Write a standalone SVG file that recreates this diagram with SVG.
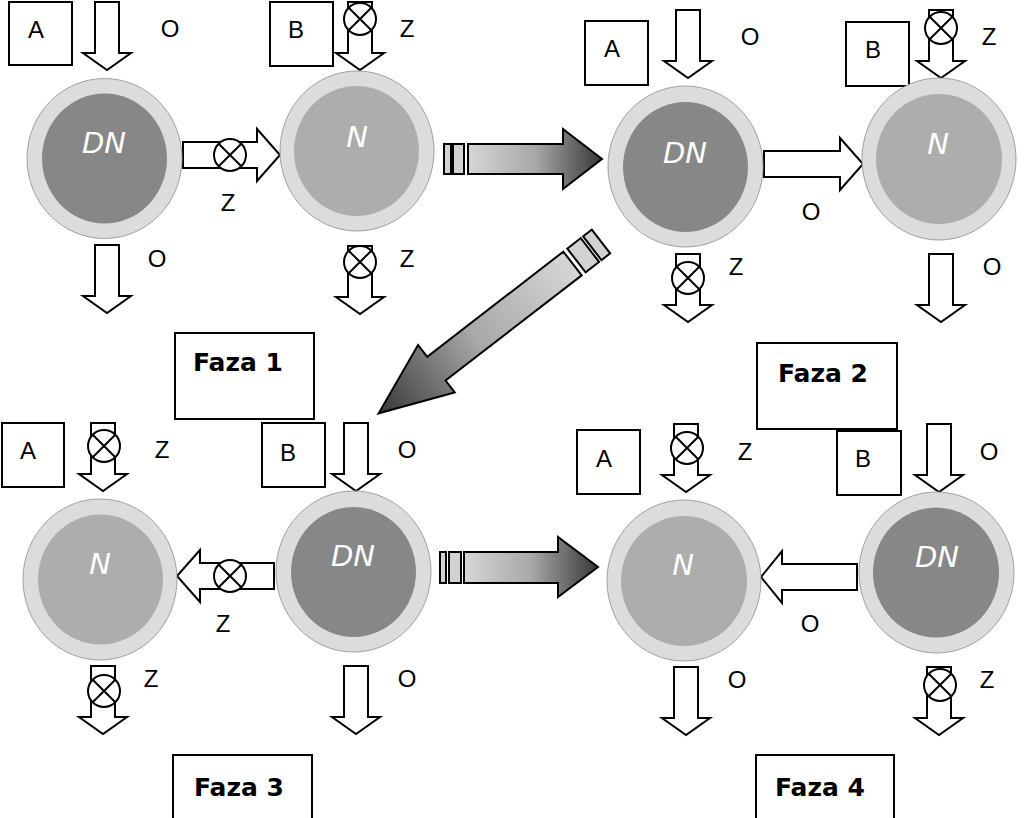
<svg xmlns="http://www.w3.org/2000/svg" xmlns:xlink="http://www.w3.org/1999/xlink" width="1024" height="818" viewBox="0 0 1024 818">
<style>
.box{fill:#fff;stroke:#000;stroke-width:2}
.arr{fill:#fff;stroke:#000;stroke-width:2;stroke-linejoin:miter}
.outer{fill:#dcdcdc;stroke:#a0a0a0;stroke-width:1}
.dn{fill:#878787}
.n{fill:#adadad}
.lbl{font-family:"Liberation Sans",Arial,sans-serif;font-size:24px;fill:#000;text-anchor:middle}
.nl{font-family:"DejaVu Sans",sans-serif;font-style:italic;font-size:29px;fill:#fff;text-anchor:middle}
.faza{font-family:"DejaVu Sans",sans-serif;font-weight:bold;font-size:25px;fill:#000}
.big{stroke:#000;stroke-width:2;stroke-linejoin:miter}
.blk{fill:#d2d2d2;stroke:#000;stroke-width:2}
</style>
<defs>
<path id="down" class="arr" d="M-12,0 V51 H-24 L0,68 L24,51 H12 V0 Z"/>
<g id="xc"><circle r="16" fill="#fff" stroke="#000" stroke-width="2"/><path d="M-11.3,-11.3 L11.3,11.3 M-11.3,11.3 L11.3,-11.3" stroke="#000" stroke-width="2"/></g>
<linearGradient id="gh" x1="0" y1="0" x2="1" y2="0"><stop offset="0" stop-color="#d6d6d6"/><stop offset="0.5" stop-color="#a8a8a8"/><stop offset="1" stop-color="#383838"/></linearGradient>
<linearGradient id="gd" gradientUnits="userSpaceOnUse" x1="0" y1="0" x2="245" y2="0"><stop offset="0" stop-color="#d6d6d6"/><stop offset="0.5" stop-color="#a8a8a8"/><stop offset="1" stop-color="#383838"/></linearGradient>
</defs>

<g id="connectors">
<!-- phase 1 -->
<use xlink:href="#down" transform="translate(107,2)"/>
<use xlink:href="#down" transform="translate(360,2)"/>
<use xlink:href="#xc" transform="translate(360,19)"/>
<use xlink:href="#down" transform="translate(107,245)"/>
<use xlink:href="#down" transform="translate(360,246)"/>
<use xlink:href="#xc" transform="translate(360,262)"/>
<path class="arr" d="M183,142 H257 V129 L280,155 L257,181 V168 H183 Z"/>
<use xlink:href="#xc" transform="translate(230,155)"/>
<!-- phase 2 -->
<use xlink:href="#down" transform="translate(688,10)"/>
<use xlink:href="#down" transform="translate(941,10)"/>
<use xlink:href="#xc" transform="translate(941,28)"/>
<use xlink:href="#down" transform="translate(688,254)"/>
<use xlink:href="#xc" transform="translate(688,278)"/>
<use xlink:href="#down" transform="translate(941,254)"/>
<path class="arr" d="M764,151 H840 V138 L863,164 L840,190 V177 H764 Z"/>
<!-- phase 3 -->
<use xlink:href="#down" transform="translate(103,423)"/>
<use xlink:href="#xc" transform="translate(104,446)"/>
<use xlink:href="#down" transform="translate(356,423)"/>
<use xlink:href="#down" transform="translate(103,666)"/>
<use xlink:href="#xc" transform="translate(104,691)"/>
<use xlink:href="#down" transform="translate(356,666)"/>
<path class="arr" d="M274,563 H200 V550 L177,576 L200,602 V589 H274 Z"/>
<use xlink:href="#xc" transform="translate(230,576)"/>
<!-- phase 4 -->
<use xlink:href="#down" transform="translate(686,424)"/>
<use xlink:href="#xc" transform="translate(687,448)"/>
<use xlink:href="#down" transform="translate(939,424)"/>
<use xlink:href="#down" transform="translate(686,667)"/>
<use xlink:href="#down" transform="translate(939,667)"/>
<use xlink:href="#xc" transform="translate(940,685)"/>
<path class="arr" d="M857,564 H782 V551 L761,577 L782,603 V590 H857 Z"/>
<!-- transition arrows -->
<g id="t12">
<rect class="blk" x="444" y="144" width="7" height="30"/>
<rect class="blk" x="453" y="144" width="11" height="30"/>
<path class="big" fill="url(#gh)" d="M468,144 H563 V129 L602,159 L563,189 V174 H468 Z"/>
</g>
<g id="t23" transform="translate(572.5,263.5) rotate(142.3)">
<rect class="blk" x="-36" y="-15" width="11" height="30"/>
<rect class="blk" x="-22" y="-15" width="17" height="30"/>
<path class="big" fill="url(#gd)" d="M0,-15 H172 V-30 L245,0 L172,30 V15 H0 Z"/>
</g>
<g id="t34">
<rect class="blk" x="440" y="552" width="6" height="31"/>
<rect class="blk" x="449" y="552" width="12" height="31"/>
<path class="big" fill="url(#gh)" d="M464,552 H558 V537 L598,567 L558,597 V583 H464 Z"/>
</g>
</g>

<!-- labels on connectors -->
<g id="labels">
<text class="lbl" x="170" y="37">O</text>
<text class="lbl" x="407" y="37">Z</text>
<text class="lbl" x="228" y="211">Z</text>
<text class="lbl" x="157" y="267">O</text>
<text class="lbl" x="407" y="267">Z</text>
<text class="lbl" x="750" y="45">O</text>
<text class="lbl" x="989" y="45">Z</text>
<text class="lbl" x="811" y="220">O</text>
<text class="lbl" x="736" y="275">Z</text>
<text class="lbl" x="992" y="275">O</text>
<text class="lbl" x="162" y="458">Z</text>
<text class="lbl" x="407" y="458">O</text>
<text class="lbl" x="223" y="632">Z</text>
<text class="lbl" x="151" y="687">Z</text>
<text class="lbl" x="407" y="687">O</text>
<text class="lbl" x="745" y="460">Z</text>
<text class="lbl" x="989" y="460">O</text>
<text class="lbl" x="810" y="632">O</text>
<text class="lbl" x="737" y="688">O</text>
<text class="lbl" x="987" y="688">Z</text>
</g>

<!-- phase 1 nodes -->
<g id="p1-A"><rect class="box" x="9" y="2" width="63" height="63"/><text class="lbl" x="36" y="38">A</text></g>
<g id="p1-B"><rect class="box" x="270" y="2" width="63" height="64"/><text class="lbl" x="296" y="38">B</text></g>
<g id="p1-DN"><ellipse class="outer" cx="104.5" cy="158.5" rx="77.5" ry="80"/><ellipse class="dn" cx="104.5" cy="158.5" rx="62.5" ry="65"/><text class="nl" x="104" y="153">DN</text></g>
<g id="p1-N"><ellipse class="outer" cx="357" cy="151" rx="77" ry="80"/><ellipse class="n" cx="356.5" cy="151" rx="62.5" ry="65"/><text class="nl" x="357" y="147">N</text></g>
<g id="faza1"><rect class="box" x="175" y="333" width="139" height="86"/><text class="faza" x="193" y="371">Faza 1</text></g>

<!-- phase 2 nodes -->
<g id="p2-A"><rect class="box" x="585" y="21" width="63" height="64"/><text class="lbl" x="612" y="57">A</text></g>
<g id="p2-B"><rect class="box" x="846" y="22" width="63" height="64"/><text class="lbl" x="873" y="58">B</text></g>
<g id="p2-DN"><ellipse class="outer" cx="685.5" cy="166.5" rx="77.5" ry="80.5"/><ellipse class="dn" cx="685.5" cy="167" rx="62.5" ry="65"/><text class="nl" x="685" y="163">DN</text></g>
<g id="p2-N"><ellipse class="outer" cx="939" cy="159" rx="77" ry="81"/><ellipse class="n" cx="939" cy="159" rx="63" ry="65"/><text class="nl" x="938" y="154">N</text></g>
<g id="faza2"><rect class="box" x="757" y="343" width="140" height="86"/><text class="faza" x="778" y="382">Faza 2</text></g>

<!-- phase 3 nodes -->
<g id="p3-A"><rect class="box" x="2" y="423" width="62" height="64"/><text class="lbl" x="28" y="459">A</text></g>
<g id="p3-B"><rect class="box" x="262" y="423" width="63" height="64"/><text class="lbl" x="288" y="461">B</text></g>
<g id="p3-N"><ellipse class="outer" cx="100" cy="579.5" rx="77" ry="80.5"/><ellipse class="n" cx="100.5" cy="579.5" rx="62.5" ry="65"/><text class="nl" x="100" y="574">N</text></g>
<g id="p3-DN"><ellipse class="outer" cx="353.5" cy="571.5" rx="77.5" ry="80.5"/><ellipse class="dn" cx="353.5" cy="572" rx="62.5" ry="65"/><text class="nl" x="353" y="566">DN</text></g>
<g id="faza3"><rect class="box" x="173" y="755" width="139" height="80"/><text class="faza" x="194" y="796">Faza 3</text></g>

<!-- phase 4 nodes -->
<g id="p4-A"><rect class="box" x="577" y="430" width="63" height="64"/><text class="lbl" x="604" y="467">A</text></g>
<g id="p4-B"><rect class="box" x="837" y="431" width="64" height="64"/><text class="lbl" x="863" y="467">B</text></g>
<g id="p4-N"><ellipse class="outer" cx="684" cy="580.5" rx="77" ry="80.5"/><ellipse class="n" cx="684" cy="581" rx="63" ry="65"/><text class="nl" x="683" y="575">N</text></g>
<g id="p4-DN"><ellipse class="outer" cx="936.5" cy="572.5" rx="77.5" ry="80.5"/><ellipse class="dn" cx="936" cy="572.5" rx="63" ry="65"/><text class="nl" x="937" y="567">DN</text></g>
<g id="faza4"><rect class="box" x="756" y="755" width="138" height="80"/><text class="faza" x="775" y="796">Faza 4</text></g>
</svg>
